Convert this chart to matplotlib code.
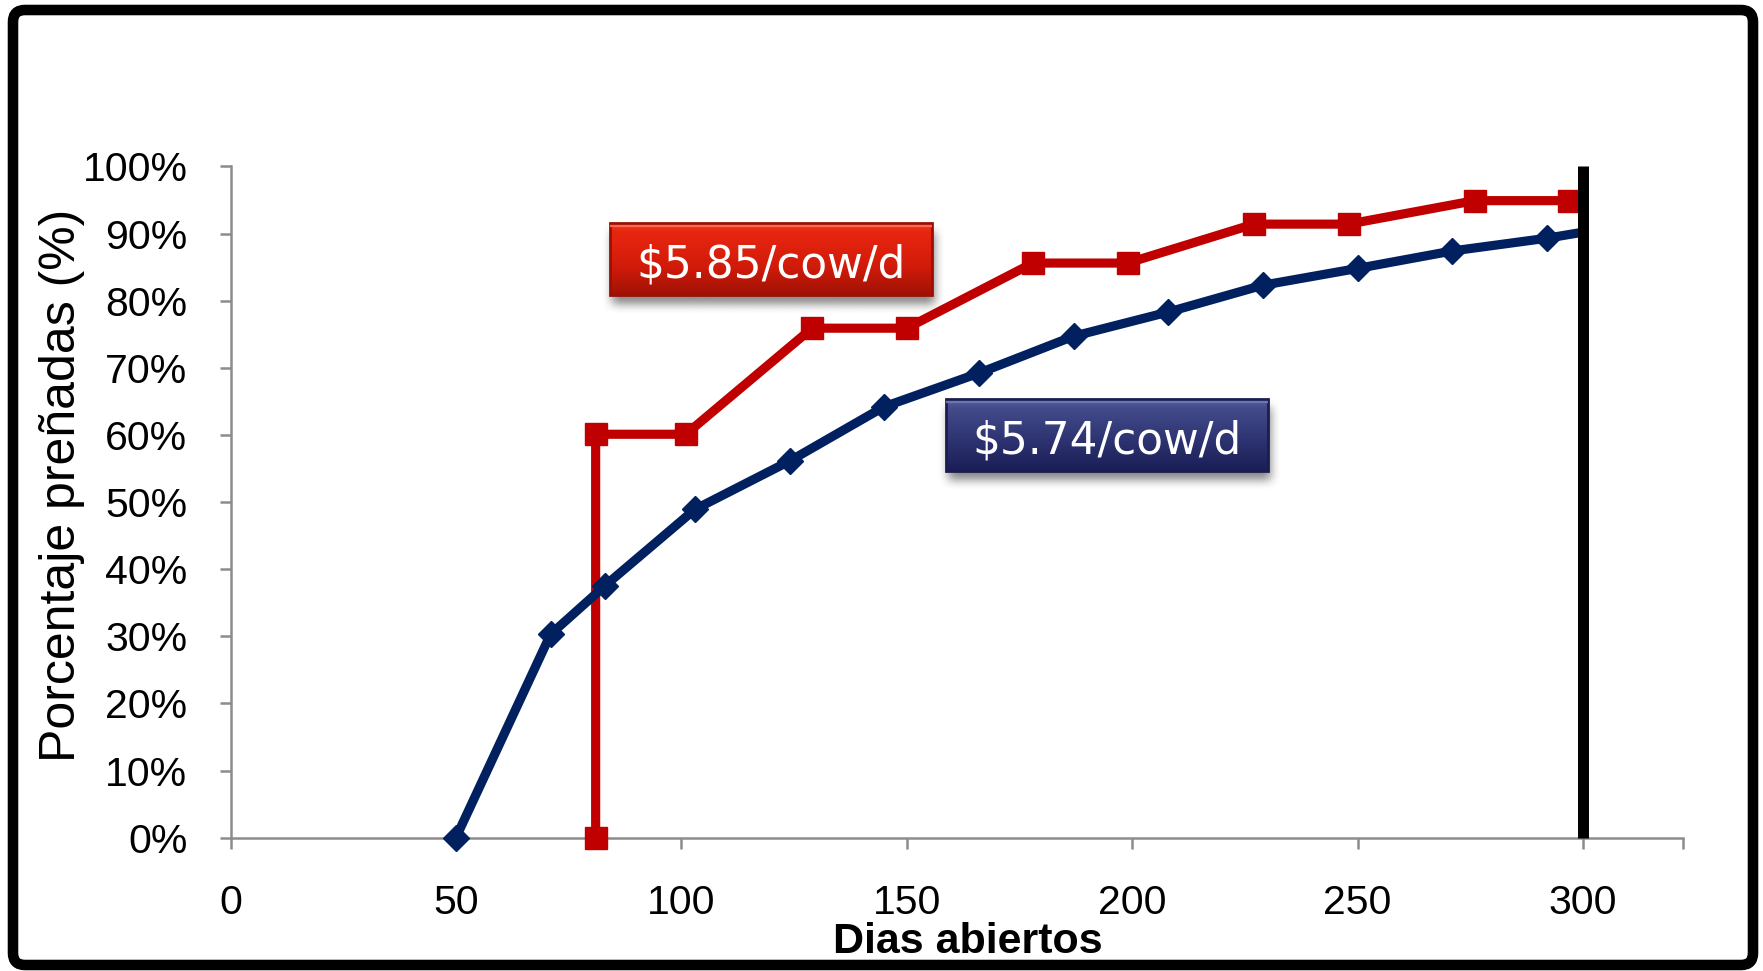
import numpy as np
import matplotlib
matplotlib.use("Agg")
import matplotlib.pyplot as plt
from matplotlib.patches import FancyBboxPatch, Rectangle
from matplotlib.transforms import IdentityTransform

# ---- data -------------------------------------------------------------
days_ticks = [0, 50, 100, 150, 200, 250, 300]
pct_ticks = [0, 10, 20, 30, 40, 50, 60, 70, 80, 90, 100]
pct_labels = [f"{v}%" for v in pct_ticks]

# conventional breeding program
blue_days = [50, 71, 83, 103, 124, 145, 166, 187, 208, 229, 250, 271, 292, 300]
blue_pct = [0, 30.3, 37.5, 48.9, 56.1, 64.2, 69.2, 74.7, 78.3, 82.3, 84.8, 87.4, 89.3, 90.2]

# synchronised breeding program
red_days = [81, 81, 101, 129, 150, 178, 199, 227, 248, 276, 297]
red_pct = [0, 60.1, 60.1, 75.9, 75.9, 85.6, 85.6, 91.4, 91.4, 94.9, 94.9]

cutoff_day = 300
red_label = "$5.85/cow/d"
blue_label = "$5.74/cow/d"

# ---- figure -----------------------------------------------------------
W, H, DPI = 1763, 971, 100
fig = plt.figure(figsize=(W / DPI, H / DPI), dpi=DPI)
fig.patch.set_facecolor("white")

x_left, x_right = 230.5, 1683.0
y_bottom, y_top = 837.7, 166.4
ax = fig.add_axes([x_left / W, 1 - y_bottom / H,
                   (x_right - x_left) / W, (y_bottom - y_top) / H])
ax.set_xlim(0, 322.2)
ax.set_ylim(0, 100)

RED = "#C00000"
NAVY = "#002060"
GREY = "#8C8C8C"

ax.plot(red_days, red_pct, color=RED, lw=6.6, marker="s", ms=15.5,
        mec=RED, mfc=RED, solid_joinstyle="round", clip_on=False, zorder=3)
# the final point sits on the cut-off line and carries no marker
ax.plot(blue_days, blue_pct, color=NAVY, lw=6.6, marker="D", ms=13,
        mec=NAVY, mfc=NAVY, markevery=list(range(len(blue_days) - 1)),
        solid_joinstyle="round", clip_on=False, zorder=4)
ax.plot([cutoff_day, cutoff_day], [0, 100], color="black", lw=7.9,
        solid_capstyle="butt", clip_on=False, zorder=5)

for side in ("top", "right"):
    ax.spines[side].set_visible(False)
for side in ("left", "bottom"):
    ax.spines[side].set_color(GREY)
    ax.spines[side].set_linewidth(1.8)

tick_font = "Liberation Sans"
ax.set_xticks(days_ticks)
ax.set_xticklabels([str(d) for d in days_ticks], fontsize=29.5, family=tick_font)
ax.set_xticks([322.2], minor=True)
ax.set_yticks(pct_ticks)
ax.set_yticklabels(pct_labels, fontsize=29.5, family=tick_font)
ax.tick_params(axis="both", which="both", direction="out", length=8,
               width=1.8, color=GREY, labelcolor="black")
ax.tick_params(axis="y", pad=23)
ax.tick_params(axis="x", pad=25)

fig.text(62 / W, 1 - 485 / H, "Porcentaje preñadas (%)", rotation=90,
         fontsize=36, family=tick_font, ha="center", va="center")
fig.text(968 / W, 1 - 942 / H, "Dias abiertos", fontsize=31,
         family=tick_font, fontweight="bold", ha="center", va="center")


# ---- price call-out boxes --------------------------------------------
def blur(a, k=11, passes=2):
    ker = np.ones(k) / k
    for _ in range(passes):
        a = np.apply_along_axis(lambda r: np.convolve(r, ker, mode="same"), 1, a)
        a = np.apply_along_axis(lambda c: np.convolve(c, ker, mode="same"), 0, a)
    return a


def callout(x0, y0, w, h, stops, edge, highlight, text):
    m = 24
    sax = fig.add_axes([(x0 - m) / W, 1 - (y0 + h + m) / H,
                        (w + 2 * m) / W, (h + 2 * m) / H])
    sax.axis("off")
    sax.patch.set_visible(False)
    gh, gw = h + 2 * m, w + 2 * m
    mask = np.zeros((gh, gw))
    dx, dy = 2, 9
    mask[m + dy:m + dy + h, m + dx:m + dx + w] = 1.0
    mask = blur(mask)
    rgba = np.zeros((gh, gw, 4))
    rgba[..., :3] = 0.2
    rgba[..., 3] = mask * 0.6
    sax.imshow(rgba, extent=(0, 1, 0, 1), aspect="auto",
               interpolation="bilinear")
    sax.set_xlim(0, 1)
    sax.set_ylim(0, 1)

    bax = fig.add_axes([x0 / W, 1 - (y0 + h) / H, w / W, h / H])
    bax.axis("off")
    pos = np.array([s[0] for s in stops])
    cols = np.array([matplotlib.colors.to_rgb(s[1]) for s in stops])
    t = np.linspace(0, 1, h)
    grad = np.stack([np.interp(t, pos, cols[:, i]) for i in range(3)], axis=-1)
    bax.imshow(grad[:, None, :], extent=(0, 1, 0, 1), aspect="auto",
               interpolation="bilinear")
    bax.set_xlim(0, 1)
    bax.set_ylim(0, 1)
    bax.add_patch(Rectangle((0, 0), 1, 1, transform=bax.transAxes,
                            fill=False, ec=edge, lw=2.0, clip_on=False))
    bax.plot([0.004, 0.996], [0.955, 0.955], color=highlight, lw=1.6,
             transform=bax.transAxes)
    bax.text(0.5, 0.25, text, color="white", fontsize=31.5,
             family="DejaVu Sans", ha="center", va="baseline",
             transform=bax.transAxes)


callout(610, 223, 322, 72,
        [(0, "#F0361A"), (0.12, "#E8260F"), (0.6, "#D21B0A"), (1, "#A01204")],
        "#9A1004", "#F46A55", red_label)
callout(946, 399, 322, 72,
        [(0, "#55609E"), (0.12, "#434B8B"), (0.6, "#2C326F"), (1, "#1B1E56")],
        "#1A1D50", "#6C76AE", blue_label)

# ---- outer frame ------------------------------------------------------
frame = FancyBboxPatch((13, 971 - 965), 1753 - 13, 965 - 10,
                       boxstyle="round,pad=0,rounding_size=12",
                       fill=False, ec="black", lw=7.6,
                       transform=IdentityTransform())
fig.patches.append(frame)

fig.savefig("out.png", dpi=DPI, facecolor="white")
